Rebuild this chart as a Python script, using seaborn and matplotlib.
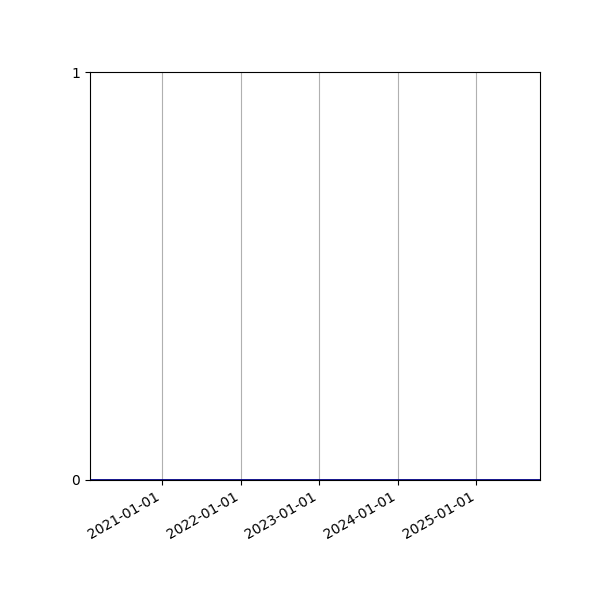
import matplotlib
matplotlib.use("Agg")
import matplotlib.pyplot as plt
import matplotlib.dates as mdates
import pandas as pd
import seaborn as sns

dates = ["2020-02-01", "2021-01-01", "2022-01-01", "2023-01-01", "2024-01-01", "2025-01-01", "2025-10-24"]
values = [0, 0, 0, 0, 0, 0, 0]
y_ticks = [0, 1]

df = pd.DataFrame({"date": pd.to_datetime(dates), "value": values})

fig, ax = plt.subplots(figsize=(6, 6), dpi=100)
sns.lineplot(data=df, x="date", y="value", ax=ax, color="#00008b", linewidth=2)

ax.set_xlim(df["date"].min(), df["date"].max())
ax.set_ylim(0, 1)
ax.set_yticks(y_ticks)
ax.xaxis.set_major_locator(mdates.YearLocator())
ax.xaxis.set_major_formatter(mdates.DateFormatter("%Y-%m-%d"))
ax.grid(axis="x", color="#b0b0b0", linewidth=0.8)
ax.grid(axis="y", visible=False)
ax.set_xlabel("")
ax.set_ylabel("")
fig.autofmt_xdate()
fig.subplots_adjust(left=0.15, right=0.9, top=0.88, bottom=0.2)
fig.savefig("out.png", dpi=100)
